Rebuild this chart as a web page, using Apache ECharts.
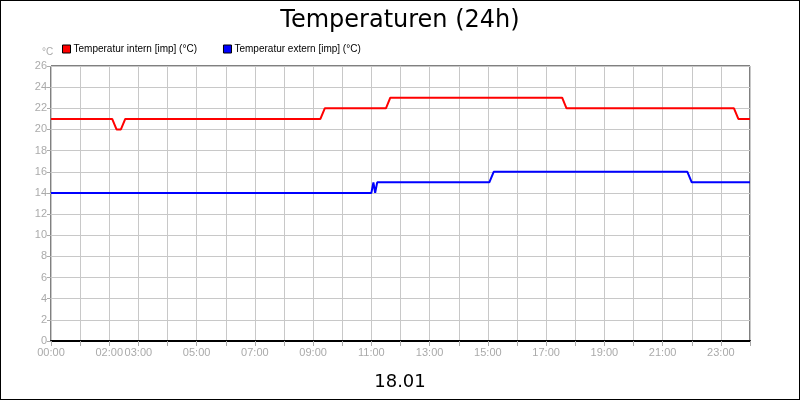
<!DOCTYPE html>
<html><head><meta charset="utf-8">
<script src="https://cdn.jsdelivr.net/npm/echarts@6/dist/echarts.min.js"></script>
<style>html,body{margin:0;padding:0;background:#fff}#c{width:798px;height:398px;border:1px solid #000}</style>
</head><body><div id="c"></div>
<script>
// hours of day, values in °C
const internTimes = [0, 2.1, 2.25, 2.4, 2.55, 9.25, 9.4, 11.5, 11.65, 17.55, 17.7, 23.45, 23.6, 24];
const internVals  = [21, 21, 20, 20, 21, 21, 22, 22, 23, 23, 22, 22, 21, 21];
const externTimes = [0, 11.0, 11.07, 11.13, 11.2, 15.05, 15.2, 21.85, 22.0, 24];
const externVals  = [14, 14, 15, 14, 15, 15, 16, 16, 15, 15];
const shownHourLabels = [0, 2, 3, 5, 7, 9, 11, 13, 15, 17, 19, 21, 23];

const pair = (t, v) => t.map((x, i) => [x, v[i]]);
const chart = echarts.init(document.getElementById('c'));
const grey = '#aaa';
chart.setOption({
  animation: false,
  title: [
    {text: 'Temperaturen (24h)', left: 'center', top: 3, textStyle: {fontSize: 24, fontWeight: 'normal', color: '#000', fontFamily: 'DejaVu Sans'}},
    {text: '18.01', left: 'center', top: 367, textStyle: {fontSize: 18, fontWeight: 'normal', color: '#000', fontFamily: 'DejaVu Sans'}},
    {text: '°C', left: 36, top: 41, textStyle: {fontSize: 10, fontWeight: 'normal', color: grey}}
  ],
  legend: {
    left: 56, top: 38, itemWidth: 8, itemHeight: 8, itemGap: 26, icon: 'rect',
    textStyle: {fontSize: 10, color: '#000', padding: [0, 0, 0, -2]},
    data: [
      {name: 'Temperatur intern [imp] (°C)', itemStyle: {color: '#f00', borderColor: '#000', borderWidth: 1}},
      {name: 'Temperatur extern [imp] (°C)', itemStyle: {color: '#00f', borderColor: '#000', borderWidth: 1}}
    ]
  },
  grid: {left: 50, right: 49, top: 65, bottom: 58, show: true, borderColor: '#000', borderWidth: 1},
  xAxis: {
    type: 'value', min: 0, max: 24, interval: 1,
    axisLine: {show: true, lineStyle: {color: '#000', width: 2}},
    axisTick: {show: true, length: 5, lineStyle: {color: grey}},
    splitLine: {show: true, lineStyle: {color: '#c8c8c8'}},
    axisLabel: {color: grey, fontSize: 11, margin: 6,
      formatter: v => shownHourLabels.includes(v) ? String(v).padStart(2, '0') + ':00' : ''}
  },
  yAxis: {
    type: 'value', min: 0, max: 26, interval: 2,
    axisLine: {show: false},
    axisTick: {show: true, length: 4, lineStyle: {color: grey}},
    splitLine: {show: true, lineStyle: {color: '#c8c8c8'}},
    axisLabel: {color: grey, fontSize: 11, margin: 4}
  },
  series: [
    {name: 'Temperatur intern [imp] (°C)', type: 'line', data: pair(internTimes, internVals), showSymbol: false, lineStyle: {color: '#f00', width: 2}, itemStyle: {color: '#f00'}},
    {name: 'Temperatur extern [imp] (°C)', type: 'line', data: pair(externTimes, externVals), showSymbol: false, lineStyle: {color: '#00f', width: 2}, itemStyle: {color: '#00f'}}
  ]
});
</script></body></html>
